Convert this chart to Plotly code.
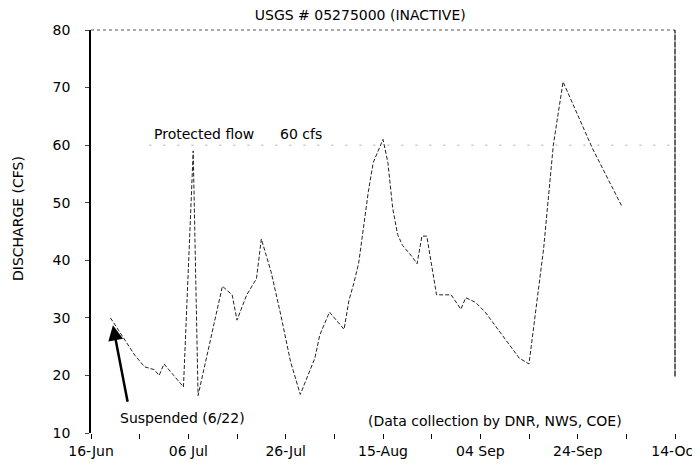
import plotly.graph_objects as go

# ---- data ----
dates = [
    "1996-06-20", "1996-06-25", "1996-06-27", "1996-06-29", "1996-06-30",
    "1996-07-01", "1996-07-03", "1996-07-05", "1996-07-07", "1996-07-08",
    "1996-07-13", "1996-07-15", "1996-07-16", "1996-07-18", "1996-07-20",
    "1996-07-21", "1996-07-23", "1996-07-25", "1996-07-27", "1996-07-29",
    "1996-08-01", "1996-08-02", "1996-08-04", "1996-08-07", "1996-08-08",
    "1996-08-09", "1996-08-10", "1996-08-11", "1996-08-12", "1996-08-13",
    "1996-08-15", "1996-08-16", "1996-08-17", "1996-08-18", "1996-08-19",
    "1996-08-21", "1996-08-22", "1996-08-23", "1996-08-24", "1996-08-26",
    "1996-08-29", "1996-08-31", "1996-09-01", "1996-09-03", "1996-09-05",
    "1996-09-12", "1996-09-14", "1996-09-17", "1996-09-19", "1996-09-21",
    "1996-09-27", "1996-10-03",
]
discharge = [
    30, 23.5, 21.5, 21, 20,
    22, 20, 18, 59, 16.5,
    35.5, 34, 29.6, 34, 36.8,
    43.7, 38, 30.5, 22.4, 16.7,
    23, 27, 31, 28, 33,
    36, 39.5, 45.5, 52, 57,
    61, 57, 49, 44.5, 42.6,
    40.6, 39.4, 44.2, 44.2, 34,
    34, 31.5, 33.5, 32.7, 31,
    23, 22, 42, 60, 71,
    59.5, 49.5,
]

tick_dates = [
    "1996-06-16", "1996-06-26", "1996-07-06", "1996-07-16", "1996-07-26",
    "1996-08-05", "1996-08-15", "1996-08-25", "1996-09-04", "1996-09-14",
    "1996-09-24", "1996-10-04", "1996-10-14",
]
tick_labels = [
    "16-Jun", "", "06 Jul", "", "26-Jul", "", "15-Aug", "", "04 Sep", "",
    "24-Sep", "", "14-Oct",
]
y_ticks = [10, 20, 30, 40, 50, 60, 70, 80]
PROTECTED_FLOW = 60
X_START, X_END = "1996-06-16", "1996-10-14"

FONT = "DejaVu Sans, Verdana, sans-serif"
FS = 14

fig = go.Figure()
fig.add_trace(go.Scatter(
    x=dates, y=discharge, mode="lines",
    line=dict(color="#222222", width=1, dash="4px,2px"),
    showlegend=False, hoverinfo="skip",
))

# protected flow reference line
fig.add_shape(type="line", xref="paper", yref="y", x0=0.1, x1=1,
              y0=PROTECTED_FLOW, y1=PROTECTED_FLOW,
              line=dict(color="#aaaaaa", width=1, dash="2px,12px"))
# top frame (dotted) and right frame
fig.add_shape(type="line", xref="paper", yref="paper", x0=0, x1=1, y0=1, y1=1,
              line=dict(color="#555555", width=1, dash="dot"))
fig.add_shape(type="line", xref="paper", yref="paper", x0=1, x1=1, y0=0.14, y1=1,
              line=dict(color="black", width=1.2, dash="6px,1px"))

# the page body adds an 8px margin, so the figure is sized to fit the window
fig.update_layout(
    width=692, height=458,
    margin=dict(l=83, r=25, t=22, b=33, autoexpand=False),
    paper_bgcolor="white", plot_bgcolor="white",
    font=dict(family=FONT, size=FS, color="black"),
    title=dict(text="USGS # 05275000 (INACTIVE)", x=0.509, xref="container",
               y=0.985, yref="container", yanchor="middle", xanchor="center",
               automargin=False,
               font=dict(size=FS, family=FONT)),
    xaxis=dict(
        type="date", range=[X_START, X_END],
        tickvals=tick_dates, ticktext=tick_labels,
        ticks="outside", ticklen=5, tickcolor="black", tickwidth=1,
        showgrid=False, zeroline=False, showline=False, automargin=False,
        tickfont=dict(size=FS),
    ),
    yaxis=dict(
        range=[10, 80], tickvals=y_ticks,
        ticks="outside", ticklen=4, tickcolor="#444444",
        ticklabelstandoff=12, automargin=False,
        showgrid=False, zeroline=False,
        showline=True, linecolor="black", linewidth=1.5,
        tickfont=dict(size=FS),
    ),
    annotations=[
        dict(text="DISCHARGE (CFS)", xref="paper", yref="paper",
             x=-0.125, y=0.531, textangle=-90, showarrow=False,
             xanchor="center", yanchor="middle", font=dict(size=FS)),
        dict(text="Protected flow", xref="paper", yref="paper",
             x=0.104, y=0.742, showarrow=False, xanchor="left", yanchor="middle",
             font=dict(size=FS)),
        dict(text="60 cfs", xref="paper", yref="paper",
             x=0.32, y=0.742, showarrow=False, xanchor="left", yanchor="middle",
             font=dict(size=FS)),
        dict(text="Suspended (6/22)", xref="paper", yref="paper",
             x=0.046, y=0.037, showarrow=False, xanchor="left", yanchor="middle",
             font=dict(size=FS)),
        dict(text="", x="1996-06-20 12:00", y=28.7, xref="x", yref="y",
             showarrow=True, ax=15, ay=78, arrowhead=2, arrowsize=1.2,
             arrowwidth=2.5, arrowcolor="black"),
        dict(text="(Data collection by DNR, NWS, COE)", xref="paper", yref="paper",
             x=0.471, y=0.03, showarrow=False, xanchor="left", yanchor="middle",
             font=dict(size=FS)),
    ],
)

fig.write_html("out.html")
